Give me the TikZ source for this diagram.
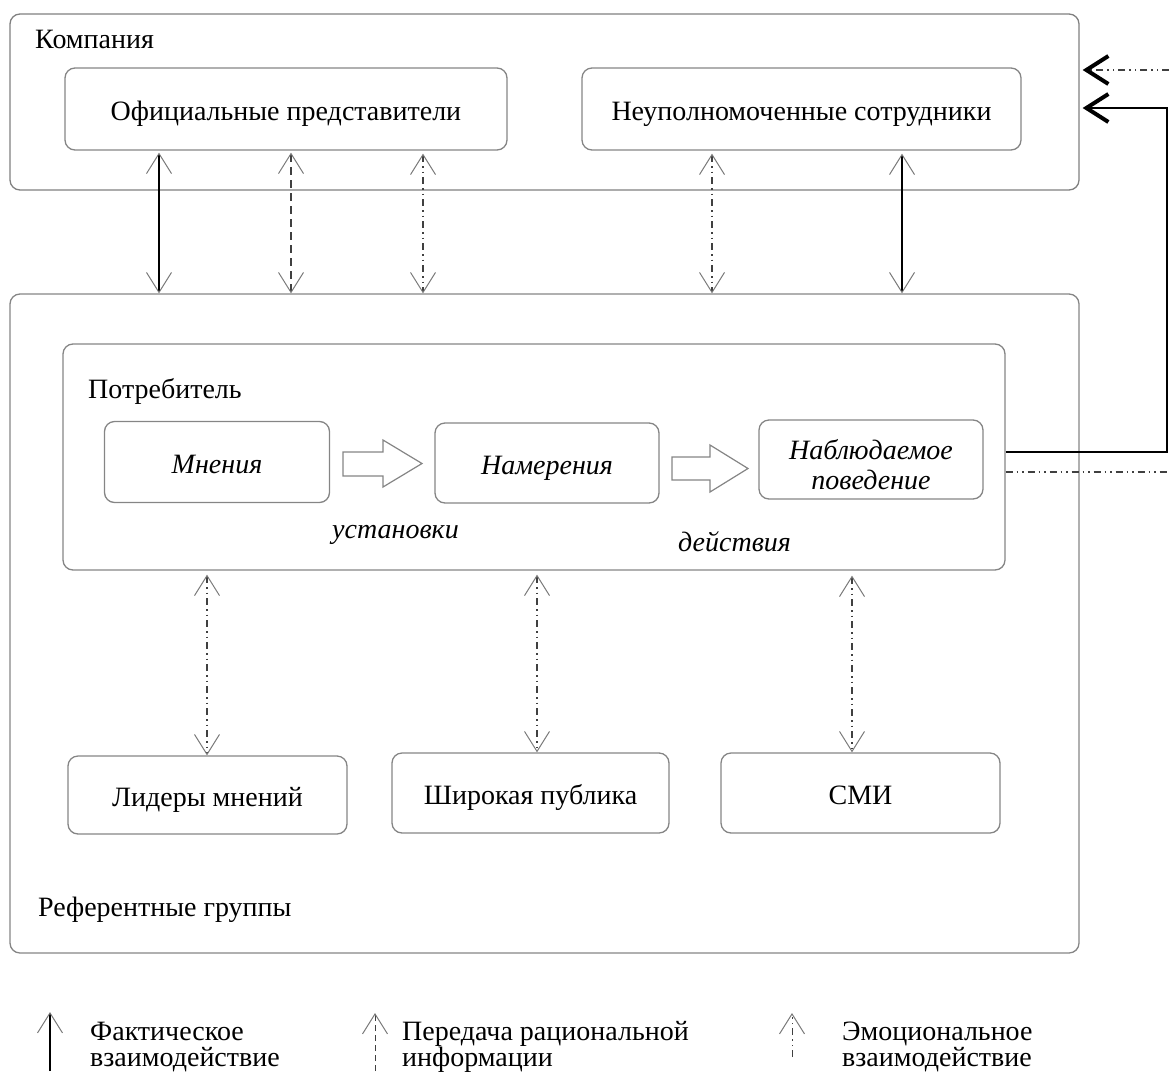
\documentclass[tikz,border=0pt]{standalone}
\usepackage{fontspec}
\setmainfont{Liberation Serif}
\usetikzlibrary{arrows.meta}
\definecolor{boxgray}{HTML}{858585}
\definecolor{tipgray}{HTML}{7A7A7A}
\definecolor{lngray}{HTML}{404040}
\tikzset{
  gv/.tip={Straight Barb[length=20pt,width=25pt,line width=1pt,color=tipgray]},
  bk/.tip={Straight Barb[length=22pt,width=28pt,line width=4pt,color=black]},
  box/.style={draw=boxgray, line width=1.3pt, rounded corners=10pt, inner sep=0pt, align=center},
  txt/.style={text height=26pt, text depth=4pt},
  fact/.style={draw=black, line width=1.1pt},
  rat/.style={draw=lngray, line width=1.3pt, dash pattern=on 8pt off 5pt},
  emo/.style={draw=lngray, line width=1.2pt, dash pattern=on 7pt off 4pt on 1.5pt off 4pt on 1.5pt off 4pt},
  both/.style={gv-gv},
  blockarr/.style={draw=boxgray, line width=1.2pt, fill=white},
  lbl/.style={inner sep=0pt, anchor=base west},
  every node/.style={font=\fontsize{28}{33}\selectfont}
}
\begin{document}
\begin{tikzpicture}[x=1pt,y=-1pt]
\useasboundingbox (0,0) rectangle (1169,1071);
% containers
\node[box, draw=gray, minimum width=1069pt, minimum height=176pt] (company) at (544.5,102) {};
\node[box, minimum width=1069pt, minimum height=659pt] (ref) at (544.5,623.5) {};
\node[box, minimum width=942pt, minimum height=226pt] (consumer) at (534,457) {};
% labels
\node[lbl] (lcomp) at (35,48) {Компания};
\node[lbl] (lcons) at (88,398) {Потребитель};
\node[lbl] (lref) at (38,916) {Референтные группы};
\node[lbl] (lust) at (332,538) {\itshape установки};
\node[lbl] (ldei) at (678,551) {\itshape действия};
% inner boxes
\node[box, txt, minimum width=442pt, minimum height=82pt] (official) at (286,109) {Официальные представители};
\node[box, txt, minimum width=439pt, minimum height=82pt] (unauth) at (801.5,109) {Неуполномоченные сотрудники};
\node[box, txt, minimum width=225pt, minimum height=81pt] (opin) at (217,462) {\itshape Мнения};
\node[box, txt, minimum width=224pt, minimum height=80pt] (intent) at (547,463) {\itshape Намерения};
\node[box, minimum width=224pt, minimum height=79pt] (behav) at (871,459.5) {};
\node[inner sep=0pt, align=center, font=\fontsize{28}{30}\selectfont\itshape] (behavtxt) at ([yshift=-5pt]behav.center) {Наблюдаемое\\поведение};
\node[box, txt, minimum width=279pt, minimum height=78pt] (leaders) at (207.5,795) {Лидеры мнений};
\node[box, txt, minimum width=277pt, minimum height=80pt] (public) at (530.5,793) {Широкая публика};
\node[box, txt, minimum width=279pt, minimum height=80pt] (media) at (860.5,793) {СМИ};
% block arrows
\draw[blockarr] (343,452) -- (383,452) -- (383,440) -- (422,463.5) -- (383,487) -- (383,476) -- (343,476) -- cycle;
\draw[blockarr] (672,457) -- (710,457) -- (710,445) -- (748,468.5) -- (710,492) -- (710,480) -- (672,480) -- cycle;
% x positions
\coordinate (x1) at (159,0);
\coordinate (x2) at (291,0);
\coordinate (x3) at (423,0);
\coordinate (x4) at (712,0);
\coordinate (x5) at (902,0);
\coordinate (x6) at (207,0);
\coordinate (x7) at (537,0);
\coordinate (x8) at (852,0);
% company <-> referent groups
\draw[fact, both, shorten <=2pt] (official.south -| x1) -- (ref.north -| x1);
\draw[rat, both, shorten <=2pt] (official.south -| x2) -- (ref.north -| x2);
\draw[emo, both, shorten <=3pt] (official.south -| x3) -- (ref.north -| x3);
\draw[emo, both, shorten <=3pt] (unauth.south -| x4) -- (ref.north -| x4);
\draw[fact, both, shorten <=3pt] (unauth.south -| x5) -- (ref.north -| x5);
% consumer <-> groups
\draw[emo, both, shorten <=4pt] (consumer.south -| x6) -- (leaders.north -| x6);
\draw[emo, both, shorten <=4pt] (consumer.south -| x7) -- (public.north -| x7);
\draw[emo, both, shorten <=5pt] (consumer.south -| x8) -- (media.north -| x8);
% feedback lines at right
\coordinate (fbA) at (1167,452);
\coordinate (fbB) at (1167,108);
\coordinate (edT) at (1169,70);
\coordinate (edB) at (1169,472);
\draw[line width=1.4pt, -bk, shorten >=3pt] (consumer.east |- fbA) -- (fbA) -- (fbB) -- (company.east |- fbB);
\draw[emo, -bk, shorten >=3pt] (edT) -- (company.east |- edT);
\draw[emo] (consumer.east |- edB) -- (edB);
% legend
\coordinate (lg1b) at (50,1071);
\coordinate (lg1t) at (50,1012);
\coordinate (lg2b) at (375,1071);
\coordinate (lg2t) at (375,1013);
\coordinate (lg3b) at (792,1057);
\coordinate (lg3t) at (792,1013);
\draw[fact, -gv] (lg1b) -- (lg1t);
\draw[rat, line width=1pt, dash pattern=on 6pt off 4pt, -gv] (lg2b) -- (lg2t);
\draw[emo, line width=1pt, -gv] (lg3b) -- (lg3t);
\node[lbl, align=left, font=\fontsize{28}{26}\selectfont] (leg1) at (90,1066) {Фактическое\\взаимодействие};
\node[lbl, align=left, font=\fontsize{28}{26}\selectfont] (leg2) at (402,1066) {Передача рациональной\\информации};
\node[lbl, align=left, font=\fontsize{28}{26}\selectfont] (leg3) at (842,1066) {Эмоциональное\\взаимодействие};
\end{tikzpicture}
\end{document}
